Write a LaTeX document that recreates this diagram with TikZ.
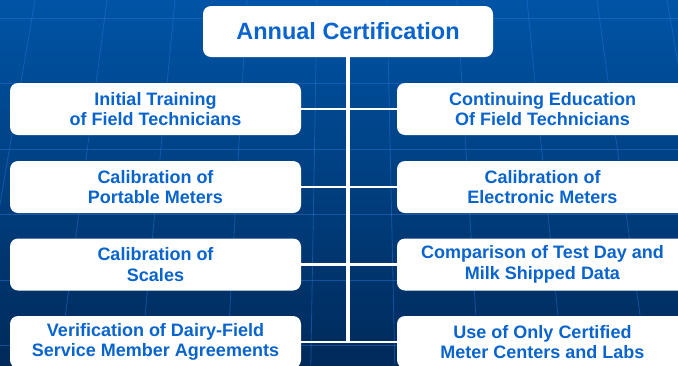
\documentclass[tikz,border=0pt]{standalone}
\usepackage{fontspec}
\setmainfont{Liberation Sans}
\usepackage{tikz}
\definecolor{bgtop}{RGB}{0,84,166}
\definecolor{bgbot}{RGB}{0,42,90}
\definecolor{gridblue}{RGB}{40,120,220}
\definecolor{textblue}{RGB}{10,100,205}

\begin{document}
\begin{tikzpicture}[x=1pt, y=-1pt,
    tnode/.style={fill=white, rounded corners=8pt, minimum width=290pt, minimum height=51pt, inner sep=0pt, align=center, text=textblue, font=\fontsize{23.5}{27}\selectfont\bfseries},
    bnode/.style={fill=white, rounded corners=8pt, minimum width=291pt, minimum height=52pt, inner sep=0pt, align=center, text=textblue, font=\fontsize{18}{20.7}\selectfont\bfseries},
    link/.style={draw=white, line width=2.5pt}]
    \useasboundingbox (0,0) rectangle (678,365);
    \fill[top color=bgtop, bottom color=bgbot] (0,0) rectangle (678,365);

   \begin{scope}[draw=gridblue, opacity=0.45, line width=0.8pt]
    \foreach \gx in {35,107,175,247,317,387,457,527,597,667}
        \draw (\gx,0) -- ({348+(\gx-348)*1.2},365);
    \foreach \gy in {18,83,149,214,280,345}
        \draw (0,\gy) -- (678,\gy);
   \end{scope}

    \node[tnode] (top) at (348,31.5) {Annual Certification};
    \node[bnode] (l1) at (155.5,109) {Initial Training\\of Field Technicians};
    \node[bnode] (r1) at (542.5,109) {Continuing Education\\Of Field Technicians};
    \node[bnode] (l2) at (155.5,187) {Calibration of\\Portable Meters};
    \node[bnode] (r2) at (542.5,187) {Calibration of\\Electronic Meters};
    \node[bnode] (l3) at (155.5,264.5) {Calibration of\\Scales};
    \node[bnode] (r3) at (542.5,264.5) {Comparison of Test Day and\\Milk Shipped Data};
    \node[bnode] (l4) at (155.5,342) {Verification of Dairy-Field\\Service Member Agreements};
    \node[bnode] (r4) at (542.5,342) {Use of Only Certified\\Meter Centers and Labs};
    \coordinate (end) at (348,343);

    \draw[link] (l1.east) -- (r1.west);
    \draw[link] (l2.east) -- (r2.west);
    \draw[link] (l3.east) -- (r3.west);
    \draw[link] (l4.east) -- (r4.west);
    \draw[link, line width=4pt] (top.south) -- (end);
\end{tikzpicture}
\end{document}
